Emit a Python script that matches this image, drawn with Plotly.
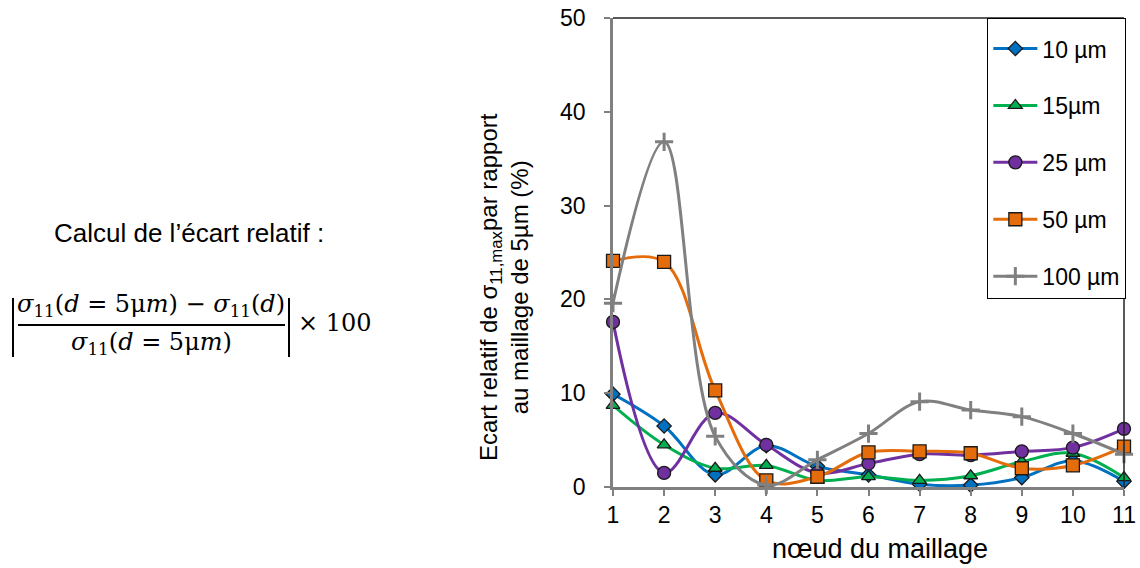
import plotly.graph_objects as go

# ---- data ----
nodes = [1, 2, 3, 4, 5, 6, 7, 8, 9, 10, 11]
series_names = ["10 µm", "15µm", "25 µm", "50 µm", "100 µm"]
v10 = [9.9, 6.5, 1.3, 4.4, 2.2, 1.3, 0.3, 0.2, 1.0, 2.8, 0.6]
v15 = [8.7, 4.5, 2.0, 2.3, 0.7, 1.1, 0.7, 1.2, 2.7, 3.6, 1.0]
v25 = [17.6, 1.5, 7.9, 4.5, 1.5, 2.5, 3.5, 3.4, 3.8, 4.2, 6.2]
v50 = [24.1, 24.0, 10.3, 0.7, 1.1, 3.7, 3.8, 3.6, 2.0, 2.3, 4.3]
v100 = [19.6, 36.8, 5.4, 0.2, 2.9, 5.7, 9.1, 8.2, 7.5, 5.7, 3.5]
values = [v10, v15, v25, v50, v100]
yticks = [0, 10, 20, 30, 40, 50]

# ---- styles ----
W, H = 1140, 568
L, R, T, B = 613, 1124, 18, 487
colors = ["#0070C0", "#00B050", "#7030A0", "#E46C0A", "#808080"]
symbols = ["diamond", "triangle-up", "circle", "square", "cross-thin"]
msizes = [11, 12, 13, 13, 13]


def px(x):
    return (x - L) / (R - L)


def py(y):
    return (B - y) / (B - T)


fig = go.Figure()
for i, (name, vals) in enumerate(zip(series_names, values)):
    if symbols[i] == "cross-thin":
        marker = dict(symbol="cross-thin", size=msizes[i], color=colors[i],
                      line=dict(color=colors[i], width=3))
    else:
        marker = dict(symbol=symbols[i], size=msizes[i], color=colors[i],
                      line=dict(color="#1a1a1a", width=1.3))
    fig.add_trace(go.Scatter(
        x=nodes, y=vals, name=name, mode="lines+markers",
        line=dict(color=colors[i], width=3, shape="spline", smoothing=1.0),
        marker=marker, legendgroup=name, cliponaxis=False,
    ))

font_main = "Liberation Sans, Arial, sans-serif"
serif = "DejaVu Serif, Liberation Serif, serif"

fig.update_layout(
    width=W, height=H,
    margin=dict(l=L, r=W - R, t=T, b=H - B, pad=0, autoexpand=False),
    paper_bgcolor="white", plot_bgcolor="white",
    font=dict(family=font_main, size=23, color="black"),
    showlegend=True,
    legend=dict(
        x=1.004, xanchor="right", y=1, yanchor="top",
        bordercolor="black", borderwidth=1.3, bgcolor="white",
        font=dict(size=23), itemwidth=44, tracegroupgap=24,
        traceorder="grouped",
        title=dict(text=" ", font=dict(size=6)),
    ),
    xaxis=dict(
        range=[1, 11], tickvals=nodes, showgrid=False, zeroline=False,
        showline=True, linecolor="#808080", linewidth=2.5, automargin=False,
        ticks="outside", ticklen=6, tickcolor="#808080", tickwidth=1.5,
        ticklabelstandoff=0, tickfont=dict(size=23),
    ),
    yaxis=dict(
        range=[0, 50], tickvals=yticks, showgrid=False, zeroline=False,
        showline=True, linecolor="#808080", linewidth=2.5, automargin=False,
        ticks="outside", ticklen=6, tickcolor="#808080", tickwidth=1.5,
        ticklabelstandoff=14, tickfont=dict(size=23),
    ),
)

shapes = [
    # top and right frame
    dict(type="line", xref="paper", yref="paper", x0=0, x1=1, y0=1, y1=1,
         line=dict(color="#222222", width=1.5)),
    dict(type="line", xref="paper", yref="paper", x0=1, x1=1, y0=0, y1=1,
         line=dict(color="#222222", width=1.5)),
    # formula: fraction bar and absolute-value bars
    dict(type="line", xref="paper", yref="paper", x0=px(18), x1=px(285),
         y0=py(325), y1=py(325), line=dict(color="black", width=2)),
    dict(type="line", xref="paper", yref="paper", x0=px(13), x1=px(13),
         y0=py(298), y1=py(357), line=dict(color="black", width=2)),
    dict(type="line", xref="paper", yref="paper", x0=px(289), x1=px(289),
         y0=py(298), y1=py(357), line=dict(color="black", width=2)),
]
fig.update_layout(shapes=shapes)

annotations = [
    dict(text="Calcul de l’écart relatif :", x=px(189), y=py(233),
         font=dict(size=26, family=font_main)),
    dict(text="<i>σ</i><sub>11</sub>(<i>d</i> = 5μ<i>m</i>) − <i>σ</i><sub>11</sub>(<i>d</i>)",
         x=px(151), y=py(306), font=dict(size=24, family=serif)),
    dict(text="<i>σ</i><sub>11</sub>(<i>d</i> = 5μ<i>m</i>)",
         x=px(151), y=py(343), font=dict(size=24, family=serif)),
    dict(text="× 100", x=px(335), y=py(323), font=dict(size=24, family=serif)),
    dict(text="Ecart relatif de σ<sub>11,max</sub>par rapport<br>au maillage de 5µm (%)",
         x=px(504), y=py(287), textangle=-90, font=dict(size=24, family=font_main)),
    dict(text="nœud du maillage", x=px(880), y=py(549),
         font=dict(size=27, family=font_main)),
]
for a in annotations:
    a.update(xref="paper", yref="paper", showarrow=False,
             xanchor="center", yanchor="middle")
fig.update_layout(annotations=annotations)

fig.write_html("out.html", config={"displayModeBar": False},
               post_script="document.body.style.margin='0px';")
